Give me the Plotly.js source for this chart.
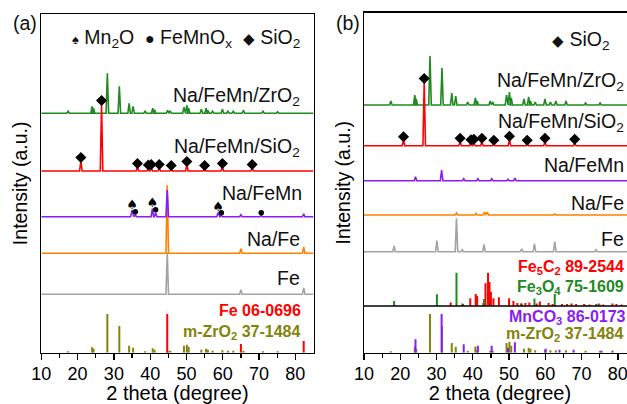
<!DOCTYPE html>
<html><head><meta charset="utf-8">
<script src="https://cdn.plot.ly/plotly-3.0.1.min.js"></script>
<style>html,body{margin:0;padding:0;overflow:hidden;background:#fff}#chart{width:640px;height:404px}</style>
</head><body><div id="chart"></div>
<script>
// ---------- DATA (2θ positions in degrees, intensities in a.u.) ----------
// Panel (a): measured patterns
const aFePos = [44.7, 65.0, 82.3];
const aFeInt = [42, 4.5, 6.5];
const aNaFePos = [44.7, 65.0, 82.3];
const aNaFeInt = [68, 4.5, 6.5];
const aNaFeMnPos = [35.0, 35.9, 40.6, 41.5, 44.7, 58.7, 59.6, 65.0, 70.6, 82.3];
const aNaFeMnInt = [6.5, 2, 8, 4, 26.7, 4, 1, 2, 1, 3];
const sio2Pos = [20.9, 26.6, 36.5, 39.5, 40.3, 42.5, 45.8, 50.1, 55.0, 59.9, 68.1];
const aSiO2Int = [10, 67, 4, 2.5, 3, 3, 2, 6, 2, 4, 3];
const zrPos = [17.4, 24.0, 24.4, 28.2, 31.5, 34.2, 35.3, 38.6, 40.7, 41.2, 44.8, 45.5, 49.3, 50.1, 50.6, 54.1, 55.4, 55.9, 57.2, 59.9, 61.4, 62.9, 65.7, 71.1, 75.1];
const aZrO2Int = [2, 7, 5, 40, 27, 10, 7, 2.5, 5, 3.5, 3, 2.5, 6, 8, 5, 4, 5, 3, 2, 4, 2, 2, 3, 2, 1.5];
const aOffsets = [58.4, 99.4, 136, 181.7, 239.4]; // Fe, Na/Fe, Na/FeMn, Na/FeMn/SiO2, Na/FeMn/ZrO2
const mn2oPos = [35.0, 40.6, 58.7];
const femnoxPos = [35.9, 41.5, 59.6, 70.6];
// Panel (a): reference cards
const refFePos = [44.7, 65.0, 82.3];
const refFeInt = [38.7, 8.7, 11.7];
const aRefZrInt = [1.5, 5.5, 4, 38.7, 26.7, 7, 5, 1.5, 4.5, 3, 2, 2, 7, 8, 6, 3, 4, 3, 2, 2.5, 2, 2, 2, 1.5, 1.5];

// Panel (b): measured patterns
const bFePos = [18.3, 30.1, 35.5, 37.1, 43.1, 53.5, 57.0, 62.6, 74.0];
const bFeInt = [5.7, 11, 33.4, 2, 7.4, 3, 7.7, 10, 2];
const bNaFePos = [35.5, 40.9, 43.2, 44.0, 62.6];
const bNaFeInt = [2, 1.5, 3, 3, 1];
const bNaFeMnPos = [24.2, 31.4, 37.5, 41.4, 45.2, 49.7, 51.6];
const bNaFeMnInt = [4, 10.7, 2, 2, 2, 1.5, 2.5];
const bSiO2Int = [5.5, 63.7, 4, 2.5, 3, 4, 2, 6, 2, 4, 3];
const bZrO2Int = [4, 10, 6, 49, 37, 12, 9, 3, 7, 4, 4, 3, 10, 13, 7, 6, 8, 4, 3, 6, 3, 4, 4, 2, 2];
const bOffsets = [101, 137.7, 172, 207, 247.7];
// Panel (b): reference cards
const fe3o4Pos = [18.3, 30.1, 35.5, 37.1, 43.1, 53.5, 57.0, 62.6, 71.0, 74.0, 75.0];
const fe3o4Int = [5, 11.7, 33.3, 2.5, 7, 2.5, 7.5, 12, 1, 2, 1.5];
const fe5c2Pos = [33.9, 37.3, 39.3, 40.8, 41.2, 42.9, 43.5, 44.2, 44.6, 45.0, 45.7, 47.2, 50.0, 51.2, 52.3, 53.3, 54.5, 55.6, 57.6, 58.5, 60.9, 62.0, 64.6, 66.0, 67.2, 68.5, 70.7, 72.2, 74.7, 76.0, 78.5, 79.6, 81.0];
const fe5c2Int = [3.5, 2, 7.7, 12, 10, 3, 22.7, 33.3, 24, 14, 7.7, 8.7, 7.7, 5, 3, 2.5, 3, 3.5, 2.5, 4.5, 3, 2, 2, 2, 2.5, 2, 2, 1.5, 2.5, 1.5, 2.5, 2, 1.5];
const mnco3Pos = [24.2, 31.4, 37.5, 41.4, 45.2, 49.7, 51.6, 60.1, 63.9, 67.8, 75.5, 78.5];
const mnco3Int = [13.4, 38.7, 8.4, 7, 7, 5, 10.5, 4, 3, 3, 2, 2];
const bRefZrInt = [1.5, 6, 4, 38.7, 26.7, 9.7, 6, 2, 6, 3, 2, 2, 9.7, 11, 7, 4, 5, 4, 2.5, 3, 2.5, 2.5, 2.5, 2, 2];
const bRefOffsets = [46.7, 0];

const xTickVals = [10, 20, 30, 40, 50, 60, 70, 80];
const sampleNames = ['Fe', 'Na/Fe', 'Na/FeMn', 'Na/FeMn/SiO<sub>2</sub>', 'Na/FeMn/ZrO<sub>2</sub>'];

// ---------- STYLE ----------
const FONT = 'Arial, "Liberation Sans", sans-serif';
const C = {gray:'#a3a3a3', orange:'#ff8000', purple:'#8a1cf5', red:'#ff0000', green:'#1f8a1f', olive:'#84840c'};
const W = 640, H = 404;
const px = v => v / W, py = v => 1 - v / H;
const HW = 0.35;

function pattern(pos, inten, off, color, xa, ya) {
  const idx = pos.map((p, i) => i).sort((a, b) => pos[a] - pos[b]);
  const x = [10], y = [off];
  idx.forEach(i => { x.push(pos[i] - HW, pos[i], pos[i] + HW); y.push(off, off + inten[i], off); });
  x.push(85); y.push(off);
  return {type:'scatter', mode:'lines', x, y, xaxis:xa, yaxis:ya, line:{color, width:1.6}, hoverinfo:'skip', showlegend:false};
}
function sticks(pos, inten, off, color, xa, ya) {
  const x = [], y = [];
  pos.forEach((p, i) => { x.push(p, p, null); y.push(off, off + inten[i], null); });
  return {type:'scatter', mode:'lines', x, y, xaxis:xa, yaxis:ya, line:{color, width:2}, hoverinfo:'skip', showlegend:false};
}
function peakMarks(marks, pos, inten, off, gap, xa, ya, sym) {
  const y = marks.map(m => off + inten[pos.indexOf(m)] + gap);
  if (sym === 'spade') {
    return {type:'scatter', mode:'text', x:marks, y, text:marks.map(() => '♠'), textposition:'middle center',
      textfont:{size:13, color:'#000', family:'DejaVu Sans'}, xaxis:xa, yaxis:ya, hoverinfo:'skip', showlegend:false};
  }
  return {type:'scatter', mode:'markers', x:marks, y, xaxis:xa, yaxis:ya,
    marker:{symbol:sym, size: sym === 'diamond' ? 8.5 : 5.5, color:'#000'}, hoverinfo:'skip', showlegend:false};
}

const traces = [
  // panel (a)
  sticks(zrPos, aRefZrInt, 0, C.olive, 'x', 'y'),
  sticks(refFePos, refFeInt, 0, C.red, 'x', 'y'),
  pattern(aFePos, aFeInt, aOffsets[0], C.gray, 'x', 'y'),
  pattern(aNaFePos, aNaFeInt, aOffsets[1], C.orange, 'x', 'y'),
  pattern(aNaFeMnPos, aNaFeMnInt, aOffsets[2], C.purple, 'x', 'y'),
  pattern(zrPos, aZrO2Int, aOffsets[4], C.green, 'x', 'y'),
  pattern(sio2Pos, aSiO2Int, aOffsets[3], C.red, 'x', 'y'),
  peakMarks(sio2Pos, sio2Pos, aSiO2Int, aOffsets[3], 3.5, 'x', 'y', 'diamond'),
  peakMarks(mn2oPos, aNaFeMnPos, aNaFeMnInt, aOffsets[2], 4.5, 'x', 'y', 'spade'),
  peakMarks(femnoxPos, aNaFeMnPos, aNaFeMnInt, aOffsets[2], 3, 'x', 'y', 'circle'),
  // panel (b)
  sticks(zrPos, bRefZrInt, bRefOffsets[1], C.olive, 'x2', 'y2'),
  sticks(mnco3Pos, mnco3Int, bRefOffsets[1], C.purple, 'x2', 'y2'),
  sticks(fe5c2Pos, fe5c2Int, bRefOffsets[0], C.red, 'x2', 'y2'),
  sticks(fe3o4Pos, fe3o4Int, bRefOffsets[0], C.green, 'x2', 'y2'),
  pattern(bFePos, bFeInt, bOffsets[0], C.gray, 'x2', 'y2'),
  pattern(bNaFePos, bNaFeInt, bOffsets[1], C.orange, 'x2', 'y2'),
  pattern(bNaFeMnPos, bNaFeMnInt, bOffsets[2], C.purple, 'x2', 'y2'),
  pattern(zrPos, bZrO2Int, bOffsets[4], C.green, 'x2', 'y2'),
  pattern(sio2Pos, bSiO2Int, bOffsets[3], C.red, 'x2', 'y2'),
  peakMarks(sio2Pos, sio2Pos, bSiO2Int, bOffsets[3], 3.5, 'x2', 'y2', 'diamond')
];

function xAx(domain, anchor) {
  return {domain, anchor, range:[10, 85], tickmode:'array', tickvals:xTickVals,
    ticks:'outside', ticklen:6, tickwidth:1.3, tickcolor:'#000', ticklabelstandoff:-2,
    minor:{tickmode:'array', tickvals:[15, 25, 35, 45, 55, 65, 75], ticks:'outside', ticklen:3.5, tickwidth:1.2, tickcolor:'#000'},
    showline:true, linecolor:'#000', linewidth:1.3, mirror:true, showgrid:false, zeroline:false,
    tickfont:{size:18, color:'#000', family:FONT},
    title:{text:'2 theta (degree)', font:{size:20, color:'#000', family:FONT}, standoff:7}, fixedrange:true};
}
function yAx(domain, anchor, top) {
  return {domain, anchor, range:[0, top], showticklabels:false, ticks:'',
    showline:true, linecolor:'#000', linewidth:1.3, mirror:true, showgrid:false, zeroline:false,
    title:{text:'Intensity (a.u.)', font:{size:19.5, color:'#000', family:FONT}, standoff:7}, fixedrange:true};
}

function lab(text, x, y, opts) {
  return Object.assign({xref:'paper', yref:'paper', x:px(x), y:py(y), text, showarrow:false,
    xanchor:'right', yanchor:'middle', font:{size:19.5, color:'#111', family:FONT}}, opts || {});
}
const bold = color => ({font:{size:16, color, family:FONT}});

const aLabelY = [278, 239, 193, 147, 96];
const aLabelX = [302, 302, 303.5, 302, 302];
const bLabelY = [239, 203, 165, 122, 82];
const annotations = [
  lab('(a)', 11, 23, {xanchor:'left'}),
  lab('(b)', 334, 23, {xanchor:'left'}),
  lab('<span style="font-size:13px">♠</span> Mn<sub>2</sub>O  <span style="font-size:16px">●</span> FeMnO<sub>x</sub>  <span style="font-size:15px">◆</span> SiO<sub>2</sub>', 302, 39),
  lab('<span style="font-size:15px">◆</span> SiO<sub>2</sub>', 612, 41),
  ...sampleNames.map((n, i) => lab(n, aLabelX[i], aLabelY[i])),
  ...sampleNames.map((n, i) => lab(n, 626, bLabelY[i])),
  lab('<b>Fe 06-0696</b>', 303, 310, bold(C.red)),
  lab('<b>m-ZrO<sub>2</sub> 37-1484</b>', 303, 332, bold(C.olive)),
  lab('<b>Fe<sub>5</sub>C<sub>2</sub> 89-2544</b>', 626, 267, bold(C.red)),
  lab('<b>Fe<sub>3</sub>O<sub>4</sub> 75-1609</b>', 626, 287, bold(C.green)),
  lab('<b>MnCO<sub>3</sub> 86-0173</b>', 628, 317, bold(C.purple)),
  lab('<b>m-ZrO<sub>2</sub> 37-1484</b>', 626, 334, bold(C.olive))
];

const layout = {
  width:W, height:H, margin:{l:0, r:0, t:0, b:0}, paper_bgcolor:'#fff', plot_bgcolor:'rgba(0,0,0,0)',
  font:{family:FONT, color:'#000'}, showlegend:false,
  xaxis:xAx([px(41.3), px(313.5)], 'y'),
  yaxis:yAx([py(352.7), py(14)], 'x', 338.7),
  xaxis2:xAx([px(364), px(636)], 'y2'),
  yaxis2:yAx([py(352.7), py(12.7)], 'x2', 340),
  shapes:[{type:'line', xref:'x2 domain', yref:'y2', x0:0, x1:1, y0:bRefOffsets[0], y1:bRefOffsets[0], line:{color:'#000', width:1.3}}],
  annotations
};
Plotly.newPlot('chart', traces, layout, {staticPlot:true, displayModeBar:false});
</script></body></html>
